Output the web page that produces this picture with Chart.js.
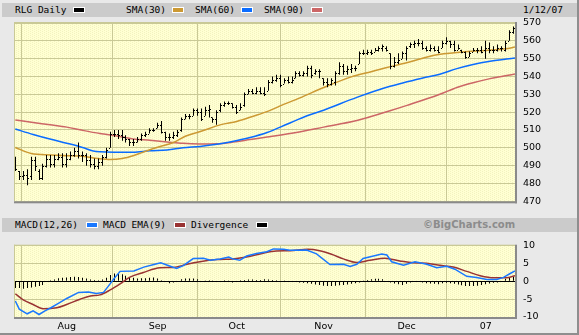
<!DOCTYPE html>
<html>
<head>
<meta charset="utf-8">
<title>RLG Daily</title>
<script src="https://cdn.jsdelivr.net/npm/chart.js@4.4.1/dist/chart.umd.min.js"></script>
<style>
  html, body { margin: 0; padding: 0; background: #fff; }
  #wrap { position: relative; width: 579px; height: 335px; background: #e9e9e9; overflow: hidden; }
  .band { position: absolute; left: 2px; width: 575px; height: 14px; background: #cbcbcb; }
  .lbl { position: absolute; height: 14px; line-height: 14px; white-space: nowrap;
         font-family: 'DejaVu Sans Mono', monospace; font-size: 9.5px; color: #000; }
  .sw { position: absolute; width: 10px; height: 4px; border: 1px solid #fff; }
  .brand { position: absolute; height: 14px; line-height: 14px; white-space: nowrap;
           font-family: 'DejaVu Sans', sans-serif; font-weight: bold; font-size: 10px; color: #8c8c8c; }
  .edgeR { position: absolute; right: 0; top: 0; width: 2px; height: 335px; background: #8e8e8e; }
  .edgeB { position: absolute; left: 0; bottom: 0; width: 579px; height: 2px; background: #8e8e8e; }
  canvas { position: absolute; left: 0; }
</style>
</head>
<body>
<div id="wrap">
  <div class="band" style="top:3px"></div>
  <span class="lbl" style="left:15px;top:3px">RLG Daily</span>
  <span class="sw" style="left:73px;top:7px;background:#000"></span>
  <span class="lbl" style="left:126px;top:3px">SMA(30)</span>
  <span class="sw" style="left:172px;top:7px;background:#cc9933"></span>
  <span class="lbl" style="left:195px;top:3px">SMA(60)</span>
  <span class="sw" style="left:241px;top:7px;background:#0a6cff"></span>
  <span class="lbl" style="left:264px;top:3px">SMA(90)</span>
  <span class="sw" style="left:311px;top:7px;background:#cc6666"></span>
  <span class="lbl" style="left:523px;top:3px">1/12/07</span>

  <canvas id="price" width="579" height="215" style="top:0"></canvas>

  <div class="band" style="top:218px"></div>
  <span class="lbl" style="left:15px;top:218px">MACD(12,26)</span>
  <span class="sw" style="left:86px;top:222px;background:#1a78ff"></span>
  <span class="lbl" style="left:103px;top:218px">MACD EMA(9)</span>
  <span class="sw" style="left:174px;top:222px;background:#993333"></span>
  <span class="lbl" style="left:191px;top:218px">Divergence</span>
  <span class="sw" style="left:256px;top:222px;background:#000"></span>
  <span class="brand" style="left:423px;top:218px">©BigCharts.com</span>

  <canvas id="macd" width="579" height="103" style="top:232px"></canvas>
  <div class="edgeR"></div>
  <div class="edgeB"></div>
</div>
<script>
// Trading days, 13 Jul 2006 .. 12 Jan 2007 (index 0 .. 126)
const monthStarts = [13, 36, 56, 78, 99, 119];
const monthLabels = ['Aug', 'Sep', 'Oct', 'Nov', 'Dec', '07'];

const opens = [494,487,484,485,484,493,487,483,490,494,491,494,495,491,494,496,498,496,496,493,
  491,490,492,495,500,508,508,507,506,505,503,503,505,507,508,510,511,513,509,506,
  506,507,510,516,518,518,521,520,518,521,517,516,521,524,525,525,523,521,524,530,
  532,531,532,531,532,537,538,539,536,538,537,539,542,541,542,545,542,543,539,537,
  536,537,542,546,543,544,545,547,553,553,554,554,555,556,556,553,546,548,550,553,
  557,558,559,559,556,555,556,555,556,559,560,558,555,555,554,551,554,555,555,555,
  556,555,555,556,555,560,565];
const highs = [495,487,487,488,495,495,488,491,496,496,496,497,497,497,498,500,503,498,497,496,
  494,494,496,500,509,510,510,510,507,505,505,506,508,509,511,511,514,515,509,508,
  509,510,517,519,519,522,522,522,523,524,517,521,525,526,526,525,524,525,531,533,
  533,534,534,534,538,540,541,541,539,540,540,543,543,543,546,546,544,544,539,539,
  539,543,548,547,546,547,546,554,555,555,555,556,557,558,557,553,551,553,554,557,
  559,560,561,560,557,558,557,557,560,562,560,560,558,555,554,554,556,556,557,560,
  559,557,558,557,560,566,568];
const lows = [487,482,482,479,482,487,482,482,489,489,489,493,489,489,493,495,494,492,490,489,
  488,488,490,494,500,506,505,504,503,501,501,503,504,506,508,509,511,508,504,504,
  505,506,509,516,516,518,518,515,518,517,514,513,520,523,524,522,519,521,523,530,
  530,530,530,529,532,536,537,534,536,536,536,539,540,540,540,539,541,539,535,534,
  535,535,541,541,541,542,543,547,552,552,552,554,554,554,554,544,545,547,550,549,
  556,556,557,555,554,554,554,553,556,558,556,554,555,553,550,551,554,553,553,550,
  553,553,554,554,554,560,564];
const closes = [488,484,485,483,493,490,483,490,494,491,494,495,491,494,496,498,496,496,493,491,
  490,492,495,499,508,508,507,506,505,503,503,505,507,508,510,510,513,509,506,506,
  507,509,516,518,518,521,520,516,521,522,516,520,524,525,525,523,520,523,530,532,
  531,532,531,530,537,538,539,535,538,537,538,542,541,542,545,541,543,543,537,536,
  538,542,546,543,544,545,545,553,553,554,553,555,556,557,555,546,548,549,553,556,
  558,559,559,556,555,556,555,554,559,560,558,555,556,554,551,553,555,555,554,556,
  555,555,556,556,559,565,567];

// Moving averages, [trading day, value]
const sma30 = [[0,500.2],[4,496.8],[9,496.0],[13,495.6],[17,495.2],[21,494.0],[24,493.5],[27,494.0],
  [30,495.7],[32,497.3],[36,500.3],[40,503.0],[43,506.5],[47,509.3],[52,513.0],[56,514.8],
  [60,517.6],[64,520.6],[67,523.5],[72,528.0],[78,533.8],[85,539.8],[90,542.7],[94,545.0],
  [99,547.7],[106,551.9],[113,553.7],[119,554.6],[124,555.5],[126.4,556.5]];
const sma60 = [[0,510.5],[4.5,507.5],[9,504.8],[13,502.6],[17,500.2],[19.7,498.2],[21.4,497.8],
  [29.8,497.5],[34,498.3],[38.4,498.8],[42.4,500.0],[46.7,500.8],[51,502.0],[54.3,503.3],
  [59.4,505.8],[63.7,508.6],[68.7,513.2],[73.8,518.0],[78,521.1],[86.4,528.3],[94.8,534.5],
  [99.1,537.0],[103.1,539.2],[107.4,541.3],[111.7,544.4],[115.8,546.7],[120.1,548.5],[126.4,550.4]];
const sma90 = [[0,515.6],[4.5,514.2],[8.8,512.9],[13,511.6],[17,509.8],[21.4,508.0],[25.7,506.6],
  [29.8,505.0],[34,504.2],[38.4,503.3],[42.4,502.5],[46.7,502.2],[51,502.3],[55.1,503.2],
  [59.4,504.6],[63.7,506.0],[69.5,508.0],[78,511.6],[86.4,515.3],[94.8,520.8],[99.1,523.8],
  [107.4,530.0],[111.7,533.8],[115.8,536.5],[120.1,538.8],[126.4,541.4]];

// MACD(12,26) and its 9-day EMA, [trading day, value]
const macdLine = [[0,-5.5],[1,-7.8],[3,-9.1],[4.5,-8.3],[6,-9.3],[7.5,-8.3],[9,-7.4],[11,-6.1],
  [13,-4.8],[16,-3.1],[18.5,-3.0],[20.5,-3.4],[22.3,-3.1],[23.5,-1.4],[25,0.8],[26.5,2.8],
  [30,2.9],[32.5,4.0],[35.3,4.8],[36.8,5.2],[38.3,4.6],[40.8,3.6],[42.5,4.4],[45,6.4],
  [47.6,6.5],[49.3,5.9],[51.8,6.3],[54,6.8],[55,6.3],[56.8,5.9],[58.5,7.1],[61,7.8],
  [63.6,8.3],[65.3,9.1],[67.8,9.0],[69.5,8.7],[73.7,8.8],[76.2,7.7],[79.6,4.7],[83,4.8],
  [84.7,4.2],[86.4,4.8],[88,6.4],[90.6,7.1],[92.7,7.7],[94,7.4],[95.2,5.5],[98.2,4.5],
  [101.1,5.5],[104.1,4.8],[106.6,3.8],[109.1,4.2],[111.2,3.4],[114.2,1.4],[116.7,1.1],
  [119.3,0.5],[121.8,0.5],[123.5,1.1],[125.2,2.2],[126.4,2.9]];
const macdEma = [[0,-3.5],[2,-5.2],[4.5,-6.5],[7,-7.7],[10.5,-7.4],[13,-6.5],[16.4,-5.0],[19,-4.1],
  [21.4,-3.8],[24,-2.4],[26.5,-0.7],[29,1.2],[32.4,2.5],[36.6,3.8],[40,3.9],[43.4,4.8],
  [46.7,5.5],[51,6.1],[55,6.3],[58.5,6.8],[62.7,7.9],[66,8.5],[69.5,8.6],[74,9.0],[77,8.6],
  [80,7.6],[83,6.3],[86.4,5.3],[89.7,5.9],[93.5,6.5],[97.3,5.7],[100.7,5.2],[104,5.1],
  [107.4,4.5],[110.8,4.0],[114.2,2.8],[117.6,1.6],[121,1.0],[124.3,1.0],[126.4,1.6]];
const divergence = [-1.9,-1.9,-2.1,-1.9,-1.7,-1.5,-1.3,-1.0,-0.2,0.3,0.5,0.9,1.0,1.1,1.2,1.3,1.2,1.0,0.8,0.5,
  0.4,0.3,0.5,1.0,1.8,2.2,2.2,2.0,1.6,1.2,1.0,0.8,0.9,0.9,1.0,1.1,0.8,0.3,-0.1,-0.5,
  -0.3,0.2,0.6,0.8,0.8,0.8,0.6,0.2,0.1,0.3,0.1,-0.2,0.2,0.3,0.1,-0.3,-0.1,0.3,0.4,0.5,
  0.5,0.4,0.4,0.6,0.5,0.4,0.3,0.2,0.1,0.0,-0.1,-0.2,-0.3,-0.4,-0.5,-0.7,-0.9,-1.0,-1.2,-1.3,
  -1.3,-1.2,-1.1,-1.0,-0.9,-0.7,-0.5,-0.3,0.1,0.4,0.6,0.7,0.7,0.6,0.2,-0.3,-0.6,-0.8,-1.0,-0.7,
  -0.3,-0.1,0.0,-0.3,-0.5,-0.6,-0.7,-0.8,-0.5,-0.4,-0.5,-0.7,-0.9,-1.1,-1.3,-1.3,-1.3,-1.2,-1.0,-0.8,
  -0.6,-0.4,-0.3,0.2,0.7,1.0,1.3];

const priceTicks = [470, 480, 490, 500, 510, 520, 530, 540, 550, 560, 570];
const macdTicks = [-10, -5, 0, 5, 10];

const GRID = '#c9c996';
const X_MIN = -0.08, X_MAX = 126.41;

Chart.defaults.font.family = "'DejaVu Sans', sans-serif";
Chart.defaults.font.size = 9.5;
Chart.defaults.color = '#000';

function paperPattern(ctx) {
  const c = document.createElement('canvas');
  c.width = 4; c.height = 4;
  const g = c.getContext('2d');
  g.fillStyle = '#ffffd2';
  g.fillRect(0, 0, 4, 4);
  g.fillStyle = '#f2f2bf';
  g.fillRect(0, 0, 1, 1); g.fillRect(2, 1, 1, 1); g.fillRect(0, 2, 1, 1); g.fillRect(2, 3, 1, 1);
  return ctx.createPattern(c, 'repeat');
}

// Paper fill behind the plot and a bevelled frame around it
const panelFrame = {
  id: 'panelFrame',
  beforeDraw(chart) {
    const { ctx, chartArea: a } = chart;
    ctx.save();
    ctx.fillStyle = paperPattern(ctx);
    ctx.fillRect(a.left, a.top, a.right - a.left, a.bottom - a.top);
    ctx.restore();
  },
  afterDraw(chart) {
    const { ctx, chartArea: a } = chart;
    ctx.save();
    ctx.fillStyle = GRID;
    ctx.fillRect(a.left - 1, a.top - 1, a.right - a.left + 1, 1);
    ctx.fillRect(a.left - 1, a.top - 1, 1, a.bottom - a.top + 1);
    ctx.fillStyle = '#8a8a8a';
    ctx.fillRect(a.right, a.top - 1, 2, a.bottom - a.top + 3);
    ctx.fillRect(a.left - 1, a.bottom, a.right - a.left + 3, 2);
    ctx.restore();
  }
};

// Snap 1px bars onto whole pixels so they render crisp
const crispBars = {
  id: 'crispBars',
  afterDatasetsUpdate(chart) {
    chart.data.datasets.forEach((ds, di) => {
      const meta = chart.getDatasetMeta(di);
      if (meta.type !== 'bar') return;
      meta.data.forEach(el => { el.x = Math.floor(el.x) + 0.5; });
    });
  }
};

// Open (left) and close (right) ticks on each high-low bar
const ohlcTicks = {
  id: 'ohlcTicks',
  afterDatasetsDraw(chart) {
    const { ctx, scales: { y } } = chart;
    const bars = chart.getDatasetMeta(0).data;
    ctx.save();
    ctx.fillStyle = '#000';
    bars.forEach((el, i) => {
      const px = Math.floor(el.x);
      ctx.fillRect(px - 1, Math.round(y.getPixelForValue(opens[i])), 1, 1);
      ctx.fillRect(px + 1, Math.round(y.getPixelForValue(closes[i])), 1, 1);
    });
    ctx.restore();
  }
};

const pairs = arr => arr.map(([d, v]) => ({ x: d, y: v }));

function monthAxis(showLabels) {
  return {
    type: 'linear', min: X_MIN, max: X_MAX, offset: false,
    afterBuildTicks: s => { s.ticks = monthStarts.map(v => ({ value: v })); },
    afterFit: s => { s.height = showLabels ? 18 : 0; },
    grid: { color: GRID, lineWidth: 1, drawTicks: false },
    border: { display: false },
    ticks: {
      display: showLabels, autoSkip: false, maxRotation: 0, padding: 4,
      callback: (v, i) => monthLabels[i]
    }
  };
}

function valueAxis(min, max, ticks, zeroLine) {
  return {
    type: 'linear', position: 'right', min, max,
    afterBuildTicks: s => { s.ticks = ticks.map(v => ({ value: v })); },
    afterFit: s => { s.width = 64; },
    grid: {
      drawTicks: false, lineWidth: 1,
      color: c => (zeroLine && c.tick && c.tick.value === 0) ? '#000' : GRID
    },
    border: { display: false },
    ticks: { padding: 8, callback: v => String(v) }
  };
}

const common = {
  responsive: false, animation: false, devicePixelRatio: 1,
  plugins: { legend: { display: false }, tooltip: { enabled: false } },
  events: []
};

new Chart(document.getElementById('price'), {
  type: 'bar',
  data: {
    datasets: [
      { type: 'bar', data: closes.map((c, i) => ({ x: i, y: [lows[i], highs[i]] })),
        backgroundColor: '#000', borderWidth: 0, barThickness: 1, inflateAmount: 0,
        grouped: false, order: 0 },
      { type: 'line', data: pairs(sma30), borderColor: '#cc9933', borderWidth: 1.5,
        pointRadius: 0, cubicInterpolationMode: 'monotone', order: 1 },
      { type: 'line', data: pairs(sma60), borderColor: '#0a6cff', borderWidth: 1.5,
        pointRadius: 0, cubicInterpolationMode: 'monotone', order: 1 },
      { type: 'line', data: pairs(sma90), borderColor: '#cc6666', borderWidth: 1.5,
        pointRadius: 0, cubicInterpolationMode: 'monotone', order: 1 }
    ]
  },
  options: Object.assign({}, common, {
    layout: { padding: { left: 15, top: 23, right: 0, bottom: 7 } },
    scales: { x: monthAxis(false), y: valueAxis(470, 570, priceTicks, false) }
  }),
  plugins: [panelFrame, crispBars, ohlcTicks]
});

new Chart(document.getElementById('macd'), {
  type: 'bar',
  data: {
    datasets: [
      { type: 'bar', data: divergence.map((v, i) => ({ x: i, y: v })),
        backgroundColor: '#000', borderWidth: 0, barThickness: 1, inflateAmount: 0,
        grouped: false, order: 2 },
      { type: 'line', data: pairs(macdLine), borderColor: '#1a78ff', borderWidth: 1.5,
        pointRadius: 0, tension: 0, order: 1 },
      { type: 'line', data: pairs(macdEma), borderColor: '#993333', borderWidth: 1.5,
        pointRadius: 0, cubicInterpolationMode: 'monotone', order: 1 }
    ]
  },
  options: Object.assign({}, common, {
    layout: { padding: { left: 15, top: 7, right: 0, bottom: 0 } },
    scales: { x: monthAxis(true), y: valueAxis(-10, 10, macdTicks, true) }
  }),
  plugins: [panelFrame, crispBars]
});
</script>
</body>
</html>
